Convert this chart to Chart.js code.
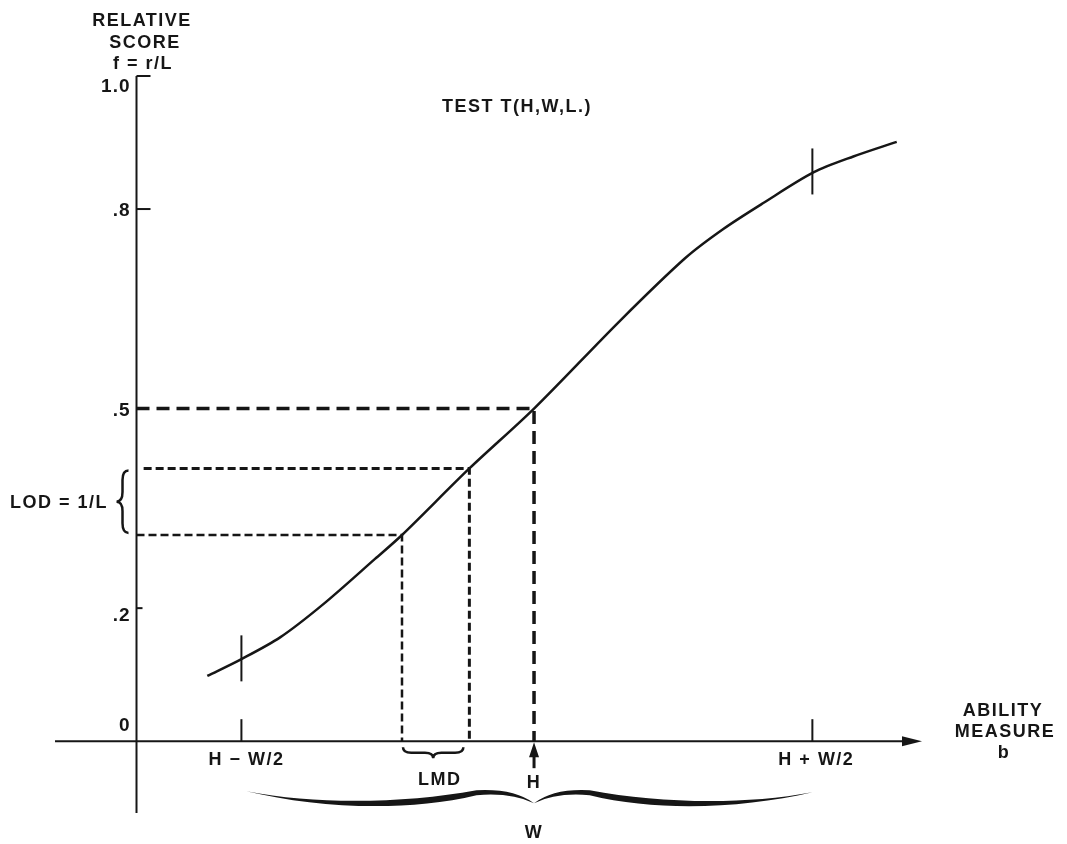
<!DOCTYPE html>
<html>
<head>
<meta charset="utf-8">
<script src="https://cdn.jsdelivr.net/npm/chart.js"></script>
<style>
  html, body { margin: 0; padding: 0; background: #fff; }
  canvas { display: block; }
</style>
</head>
<body>
<canvas id="c" width="1067" height="844"></canvas>
<script>
// test characteristic curve, ability b (H = 0) vs relative score f
const curveB = [-2.289, -2.053, -1.779, -1.476, -1.114, -0.925, -0.453, 0, 0.602, 1.058, 1.326, 1.606, 1.957, 2.237, 2.541];
const curveF = [0.098, 0.123, 0.156, 0.206, 0.274, 0.31, 0.41, 0.5, 0.632, 0.726, 0.77, 0.809, 0.855, 0.879, 0.901];

const yTickVals = [0, 0.2, 0.5, 0.8, 1.0];
const yTickLabels = ['0', '.2', '.5', '.8', '1.0'];

const markB = [-2.05, 0, 1.95];
const markLabels = ['H \u2212 W/2', 'H', 'H + W/2'];
const edgeF = [0.123, 0.855];      // curve height at H-W/2 and H+W/2

const midF = 0.5;
const lodF = [0.31, 0.41];         // LOD levels
const lmdB = [-0.925, -0.453];     // LMD limits

const bMin = -3.356, bMax = 2.718; // x axis from left end to arrow tip
const fMin = -0.12, fMax = 1.0;
const yAxisB = -2.785;
const yAxisBottom = -0.108;

const FONT = 'bold 18px "Liberation Sans", Arial, sans-serif';
const INK = '#161616';

function el(id) { return document.getElementById(id); }

function pts(xs, ys) { return xs.map((x, i) => ({ x: x, y: ys[i] })); }

function dashed(data, dash, w) {
  return { data, borderColor: INK, borderWidth: w, borderDash: dash, pointRadius: 0, tension: 0, fill: false };
}

function txt(ctx, s, x, y, align) {
  ctx.textAlign = align || 'center';
  ctx.fillText(s, x, y);
}

function seg(ctx, x1, y1, x2, y2, w) {
  ctx.lineWidth = w;
  ctx.beginPath(); ctx.moveTo(x1, y1); ctx.lineTo(x2, y2); ctx.stroke();
}

// curly brace pointing down
function braceDown(ctx, x1, x2, y, h) {
  const xm = (x1 + x2) / 2, r = h / 2;
  ctx.beginPath();
  ctx.moveTo(x1, y);
  ctx.quadraticCurveTo(x1, y + r, x1 + r * 1.5, y + r);
  ctx.lineTo(xm - r * 1.5, y + r);
  ctx.quadraticCurveTo(xm, y + r, xm, y + h);
  ctx.quadraticCurveTo(xm, y + r, xm + r * 1.5, y + r);
  ctx.lineTo(x2 - r * 1.5, y + r);
  ctx.quadraticCurveTo(x2, y + r, x2, y);
  ctx.stroke();
}

// curly brace pointing left
function braceLeft(ctx, x, y1, y2, w) {
  const ym = (y1 + y2) / 2, xb = x - w / 2, r = w / 2;
  ctx.beginPath();
  ctx.moveTo(x, y1);
  ctx.quadraticCurveTo(xb, y1, xb, y1 + r * 1.6);
  ctx.lineTo(xb, ym - r * 1.6);
  ctx.quadraticCurveTo(xb, ym, x - w, ym);
  ctx.quadraticCurveTo(xb, ym, xb, ym + r * 1.6);
  ctx.lineTo(xb, y2 - r * 1.6);
  ctx.quadraticCurveTo(xb, y2, x, y2);
  ctx.stroke();
}

// the long hand-drawn brace under the axis (thick swells)
function braceW(ctx, x1, x2, xm, y) {
  const L = xm - x1, R = x2 - xm;
  ctx.beginPath();
  ctx.moveTo(x1, y);
  ctx.bezierCurveTo(x1 + 0.25 * L, y + 14, xm - 0.45 * L, y + 12, xm - 0.2 * L, y - 1);
  ctx.quadraticCurveTo(xm - 0.07 * L, y - 3, xm, y + 12);
  ctx.quadraticCurveTo(xm - 0.08 * L, y + 1, xm - 0.2 * L, y + 4);
  ctx.bezierCurveTo(xm - 0.45 * L, y + 21, x1 + 0.25 * L, y + 17, x1, y);
  ctx.closePath();
  ctx.fill();
  ctx.beginPath();
  ctx.moveTo(xm, y + 12);
  ctx.quadraticCurveTo(xm + 0.07 * R, y - 3, xm + 0.2 * R, y - 1);
  ctx.bezierCurveTo(xm + 0.45 * R, y + 12, x2 - 0.25 * R, y + 14, x2, y + 1);
  ctx.bezierCurveTo(x2 - 0.25 * R, y + 17, xm + 0.45 * R, y + 21, xm + 0.2 * R, y + 4);
  ctx.quadraticCurveTo(xm + 0.08 * R, y + 1, xm, y + 12);
  ctx.closePath();
  ctx.fill();
}

const figure = {
  id: 'figure',
  afterDatasetsDraw(chart) {
    const ctx = chart.ctx, xs = chart.scales.x, ys = chart.scales.y;
    const X = v => xs.getPixelForValue(v), Y = v => ys.getPixelForValue(v);
    ctx.save();
    ctx.strokeStyle = INK; ctx.fillStyle = INK;
    ctx.lineCap = 'butt';

    // axes
    const y0 = Y(0), xa = X(yAxisB), xEnd = X(bMax);
    seg(ctx, X(bMin), y0, xEnd - 16, y0, 2);
    ctx.beginPath();
    ctx.moveTo(xEnd, y0); ctx.lineTo(xEnd - 20, y0 - 5); ctx.lineTo(xEnd - 20, y0 + 5); ctx.closePath(); ctx.fill();
    seg(ctx, xa, Y(yAxisBottom), xa, Y(1.0), 2);

    // y ticks (inside)
    yTickVals.forEach(v => {
      if (v === 0 || v === midF) return;
      seg(ctx, xa, Y(v), xa + (v === 0.2 ? 6 : 14), Y(v), 2);
    });

    // x marks at H-W/2, H+W/2 (axis and curve)
    [markB[0], markB[2]].forEach((b, i) => {
      seg(ctx, X(b), y0, X(b), y0 - 22, 2);
      seg(ctx, X(b), Y(edgeF[i]) - 24, X(b), Y(edgeF[i]) + 22, 2);
    });

    // arrow at H
    const xh = X(markB[1]);
    seg(ctx, xh, y0 + 10, xh, y0 + 27, 3);
    ctx.beginPath();
    ctx.moveTo(xh, y0 + 1); ctx.lineTo(xh - 5, y0 + 16); ctx.lineTo(xh + 5, y0 + 16); ctx.closePath(); ctx.fill();

    // braces
    ctx.lineWidth = 2.5;
    braceLeft(ctx, xa - 8, Y(lodF[1]) + 2, Y(lodF[0]) - 2, 12);
    braceDown(ctx, X(lmdB[0]) + 1, X(lmdB[1]) - 6, y0 + 6, 11);
    ctx.lineWidth = 1.5;
    braceW(ctx, X(markB[0]) + 5, X(markB[2]), xh, y0 + 50);

    // text
    ctx.font = FONT;
    ctx.letterSpacing = '1.5px';
    ctx.textBaseline = 'middle';
    txt(ctx, 'RELATIVE', 142, 21);
    txt(ctx, 'SCORE', 145, 43);
    txt(ctx, 'f = r/L', 143, 64);
    txt(ctx, 'TEST T(H,W,L.)', 517, 107);
    txt(ctx, 'ABILITY', 1003, 711);
    txt(ctx, 'MEASURE', 1005, 732);
    txt(ctx, 'b', 1004, 753);
    txt(ctx, 'LOD = 1/L', 59, 503);
    txt(ctx, 'LMD', X((lmdB[0] + lmdB[1]) / 2) + 4, y0 + 39);
    txt(ctx, 'W', xh, y0 + 92);
    txt(ctx, markLabels[0], X(markB[0]) + 5, y0 + 19);
    txt(ctx, markLabels[1], xh, y0 + 42);
    txt(ctx, markLabels[2], X(markB[2]) + 4, y0 + 19);

    ctx.font = 'bold 19px "Liberation Sans", Arial, sans-serif';
    ctx.letterSpacing = '1px';
    yTickVals.forEach((v, i) => {
      let dy = 2;
      if (v === 1.0) dy = 11;
      if (v === 0.2) dy = 8;
      if (v === 0) dy = -15;
      txt(ctx, yTickLabels[i], xa - 6, Y(v) + dy, 'right');
    });
    ctx.restore();
  }
};

new Chart(el('c'), {
  type: 'line',
  data: {
    datasets: [
      { data: pts(curveB, curveF), borderColor: INK, borderWidth: 2.5, pointRadius: 0,
        tension: 0.3, fill: false },
      dashed([{ x: yAxisB, y: midF }, { x: markB[1], y: midF }, { x: markB[1], y: 0 }], [13, 7], 3.5),
      dashed([{ x: yAxisB + 0.05, y: lodF[1] }, { x: lmdB[1], y: lodF[1] }, { x: lmdB[1], y: 0 }], [8, 4], 3),
      dashed([{ x: yAxisB, y: lodF[0] }, { x: lmdB[0], y: lodF[0] }, { x: lmdB[0], y: 0 }], [8, 4], 2.5),
    ]
  },
  options: {
    responsive: false,
    animation: false,
    layout: { padding: { left: 55, right: 145, top: 76, bottom: 23 } },
    plugins: { legend: { display: false }, tooltip: { enabled: false } },
    scales: {
      x: { type: 'linear', min: bMin, max: bMax, display: false },
      y: { type: 'linear', min: fMin, max: fMax, display: false }
    }
  },
  plugins: [figure]
});
</script>
</body>
</html>
